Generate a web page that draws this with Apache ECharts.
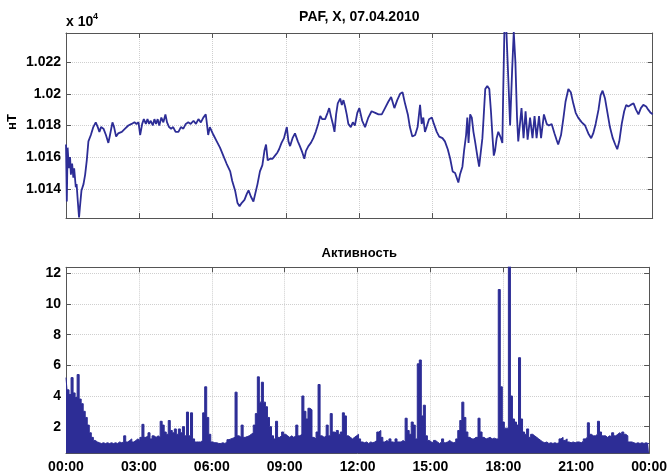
<!DOCTYPE html>
<html>
<head>
<meta charset="utf-8">
<script src="https://cdn.jsdelivr.net/npm/echarts@6/dist/echarts.min.js"></script>
<style>html,body{margin:0;padding:0;background:#fff}#c{width:670px;height:475px}</style>
</head>
<body>
<div id="c"></div>
<script>
// ---- data ----
const chartTitle = 'PAF, X, 07.04.2010';
const activityTitle = 'Активность';
const magUnit = 'нТ';

// magnetic X component: time in minutes since 00:00, value in nT
const magMinutes = [0,2,4,7,10,12,15,18,20,24,26,29,32,34,38,43,47,51,55,61,67,73,78,82,86,92,98,104,108,114,118,123,128,137,145,153,161,168,173,178,182,187,191,196,200,204,208,213,217,221,225,229,234,239,244,248,253,258,263,269,276,282,288,294,300,306,313,319,325,331,337,343,345,349,
353,362,370,378,386,394,403,408,415,421,426,431,438,444,448,454,460,464,470,476,482,487,491,495,501,507,513,519,523,529,535,542,546,550,556,562,569,574,580,585,589,595,601,607,613,619,624,629,636,642,646,651,655,659,663,667,673,677,681,685,689,693,699,704,709,715,720,
727,734,742,750,759,767,775,783,791,798,806,813,820,826,832,839,844,850,857,863,869,873,877,881,885,891,898,903,910,916,924,930,937,943,949,955,959,963,967,973,977,982,985,988,992,996,1000,1004,1010,1014,1018,1022,1025,1029,1034,1039,1043,1047,1050,1053,1057,1061,1066,1071,
1073,1076,1079,1083,1086,1090,1095,1099,1103,1107,1110,
1118,1123,1128,1133,1139,1145,1150,1155,1161,1166,1173,1180,1185,1192,1199,1204,1208,1215,1221,1226,1233,1239,1245,1251,1257,1266,1274,1282,1289,1294,1300,1307,1312,1317,1323,1329,1335,1342,1348,1353,1358,1364,1370,1375,1380,1386,1393,1399,1405,1411,1417,1424,1429,1435,1440];
const magValues = [10168,10132,10166,10153,10160,10149,10156,10147,10153,10141,10143,10132,10122,10128,10139,10143,10149,10158,10170,10174,10179,10182,10179,10176,10179,10178,10174,10169,10174,10182,10179,10173,10175,10176,10178,10180,10181,10182,10181,10182,10174,10181,10184,10181,10184,10181,10183,10180,10184,10181,10184,10180,10185,10182,10187,10182,10179,10178,10179,10176,10176,10179,10178,10181,10182,10181,10183,10181,10184,10182,10185,10187,10183,10174,
10179,10174,10170,10166,10161,10156,10151,10145,10139,10131,10129,10131,10133,10137,10139,10135,10132,10131,10143,10151,10155,10164,10168,10158,10159,10159,10161,10163,10165,10169,10172,10179,10170,10167,10172,10175,10170,10167,10163,10159,10164,10167,10169,10172,10176,10181,10186,10184,10184,10188,10191,10185,10181,10176,10187,10194,10197,10193,10196,10192,10187,10181,10179,10182,10180,10188,10191,
10183,10179,10185,10189,10188,10187,10187,10191,10195,10198,10191,10196,10200,10201,10194,10187,10179,10173,10174,10179,10193,10181,10185,10176,10179,10184,10185,10181,10176,10173,10172,10170,10165,10159,10151,10150,10147,10144,10149,10154,10164,10174,10185,10169,10187,10185,10176,10170,10160,10154,10153,10172,10185,10203,10205,10203,10189,10172,10161,10164,10172,10176,10173,10169,
10200,10240,10252,10252,10207,10180,10215,10239,10220,10185,10170,
10191,10172,10189,10171,10185,10172,10186,10172,10186,10172,10187,10181,10180,10181,10175,10171,10168,10174,10185,10195,10203,10201,10194,10188,10185,10182,10180,10175,10172,10175,10181,10190,10199,10202,10197,10188,10179,10172,10168,10165,10170,10181,10189,10193,10192,10193,10194,10190,10187,10191,10193,10192,10190,10188,10187];

// activity: upper envelope per 5-minute step, from 00:00 to 24:00
const activityStep = 5;
const activityPeak = [
5.2,4.4,4.1,5.2,4.2,3.9,5.4,3.8,3.5,3.0,2.6,2.1,
1.6,1.3,1.1,1.0,0.95,0.9,0.95,0.9,0.95,0.9,0.95,0.9,
0.95,0.9,1.0,0.95,1.0,1.4,1.0,1.1,1.2,1.0,1.1,1.2,
1.1,1.3,2.15,1.3,1.4,1.6,1.2,1.4,1.3,1.4,1.3,2.35,
2.1,1.65,1.5,2.4,1.75,1.6,1.85,1.5,1.85,1.6,2.0,1.4,
2.95,1.4,2.9,1.2,1.0,1.0,1.0,1.1,2.9,4.6,2.6,1.5,
1.0,0.95,0.95,0.9,0.9,0.95,0.9,1.0,1.15,1.2,1.25,1.3,
4.25,1.4,1.3,2.1,1.3,1.35,1.4,1.5,1.6,2.1,2.85,5.25,
3.6,4.9,3.6,3.3,2.6,2.0,1.4,1.2,2.35,1.3,1.4,1.65,
1.5,1.4,1.3,1.4,1.3,1.4,2.1,1.4,1.5,4.0,3.0,2.5,
3.2,3.1,1.3,1.2,1.65,4.75,1.4,1.3,1.4,2.1,1.4,2.85,
1.65,1.6,1.75,1.5,1.65,2.9,2.7,1.4,1.3,1.2,1.3,1.4,
1.5,1.2,1.0,0.95,1.0,0.9,1.0,0.95,1.0,1.1,1.65,1.75,
1.3,1.0,1.1,1.0,1.2,1.0,0.95,1.2,1.0,1.0,1.1,1.0,
2.55,1.75,1.5,2.3,2.1,1.2,6.1,6.35,2.7,3.4,1.4,1.1,
1.0,0.95,1.1,1.0,0.9,1.0,1.2,0.95,1.0,1.1,1.0,0.95,
1.0,1.2,1.75,2.4,3.6,2.6,1.65,1.3,1.2,1.2,1.3,1.3,
2.55,1.65,1.3,1.2,1.25,1.3,1.2,1.25,1.2,1.2,10.95,4.6,
2.3,1.9,1.9,12.5,4.0,2.5,2.3,2.1,6.5,2.5,1.65,1.5,
1.85,1.3,1.5,1.4,1.3,1.2,1.1,1.0,0.95,1.0,0.9,0.95,
0.9,0.95,0.9,0.95,1.2,1.3,1.1,1.2,1.0,0.95,1.0,0.95,
1.0,1.0,0.95,1.05,1.2,1.3,2.25,1.5,1.4,1.4,1.5,2.35,
1.65,1.4,1.4,1.3,1.4,1.35,1.6,1.4,1.5,1.6,1.5,1.65,
1.5,1.4,1.0,1.0,0.95,0.9,0.95,0.9,0.95,0.9,0.95,0.9,
0.9];

// axes
const timeTickStep = 180;         // minutes between x ticks
const dayMinutes = 1440;
const magRange = [10121.6, 10238.4];
const magTicks = [10140, 10160, 10180, 10200, 10220];
const actRange = [0.26, 12.4];
const actTicks = [2, 4, 6, 8, 10, 12];

// ---- chart ----
const FONT = '"Liberation Sans", Arial, Helvetica, sans-serif';
const LINE = '#2d2d96';
const FRAME = '#555555';
const GRIDC = '#cfcfcf';

const magData = magMinutes.map((m, i) => [m, magValues[i]]);
const actData = activityPeak.map((v, i) => [i * activityStep, v]);

function hhmm(v) {
  const m = Math.round(v) % dayMinutes;
  const h = Math.floor(m / 60), mm = m % 60;
  return (h < 10 ? '0' : '') + h + ':' + (mm < 10 ? '0' : '') + mm;
}

const labelStyle = { color: '#000', fontFamily: FONT, fontWeight: 'bold', fontSize: 14 };

function xAx(grid, pos, labels) {
  return {
    type: 'value', gridIndex: grid, position: pos, min: 0, max: dayMinutes, interval: timeTickStep,
    axisLine: { show: true, onZero: false, lineStyle: { color: FRAME, width: 1 } },
    axisTick: { show: true, inside: true, length: 5, lineStyle: { color: FRAME } },
    axisLabel: labels ? Object.assign({ show: true, margin: 7, formatter: hhmm }, labelStyle) : { show: false },
    splitLine: { show: pos === 'bottom', lineStyle: { color: GRIDC, type: 'dotted' } }
  };
}
function yAx(grid, pos, range, ticks, fmt) {
  return {
    type: 'value', gridIndex: grid, position: pos, min: range[0], max: range[1],
    axisLine: { show: true, onZero: false, lineStyle: { color: FRAME, width: 1 } },
    axisTick: { show: true, inside: true, length: 5, customValues: ticks, lineStyle: { color: FRAME } },
    axisLabel: pos === 'left' ? Object.assign({ show: true, margin: 5, customValues: ticks, formatter: fmt }, labelStyle) : { show: false, customValues: ticks },
    splitLine: { show: pos === 'left', lineStyle: { color: GRIDC, type: 'dotted' } }
  };
}

const chart = echarts.init(document.getElementById('c'), null, { renderer: 'canvas' });
chart.setOption({
  animation: false,
  backgroundColor: '#fff',
  grid: [
    { left: 66, top: 33, right: 17.3, height: 185 },
    { left: 66, top: 267.3, right: 17.3, height: 186 }
  ],
  xAxis: [xAx(0, 'bottom', false), xAx(0, 'top', false), xAx(1, 'bottom', true), xAx(1, 'top', false)],
  yAxis: [
    yAx(0, 'left', magRange, magTicks, v => String(parseFloat((v / 10000).toFixed(4)))),
    yAx(0, 'right', magRange, magTicks),
    yAx(1, 'left', actRange, actTicks, v => String(v)),
    yAx(1, 'right', actRange, actTicks)
  ],
  series: [
    {
      type: 'line', xAxisIndex: 0, yAxisIndex: 0, data: magData, showSymbol: false, clip: true,
      lineStyle: { color: LINE, width: 1.8 }
    },
    {
      type: 'line', xAxisIndex: 2, yAxisIndex: 2, data: actData, showSymbol: false, step: 'middle', clip: true,
      lineStyle: { color: LINE, width: 1 },
      areaStyle: { color: LINE, opacity: 1 }
    }
  ],
  graphic: [
    { type: 'text', x: 359.3, y: 17.5, style: { text: chartTitle, font: 'bold 14px ' + FONT, fill: '#000', textAlign: 'center', textVerticalAlign: 'middle', align: 'center', verticalAlign: 'middle' } },
    { type: 'text', x: 359.3, y: 253, style: { text: activityTitle, font: 'bold 13px ' + FONT, fill: '#000', textAlign: 'center', textVerticalAlign: 'middle', align: 'center', verticalAlign: 'middle' } },
    { type: 'text', x: 66, y: 22.5, style: { text: 'x 10', font: 'bold 14px ' + FONT, fill: '#000', textAlign: 'left', textVerticalAlign: 'middle', align: 'left', verticalAlign: 'middle' } },
    { type: 'text', x: 93, y: 17, style: { text: '4', font: 'bold 9px ' + FONT, fill: '#000', textAlign: 'left', textVerticalAlign: 'middle', align: 'left', verticalAlign: 'middle' } },
    { type: 'text', x: 12.5, y: 122, rotation: Math.PI / 2, style: { text: magUnit, font: 'bold 13px ' + FONT, fill: '#000', textAlign: 'center', textVerticalAlign: 'middle', align: 'center', verticalAlign: 'middle' } }
  ]
});
</script>
</body>
</html>
